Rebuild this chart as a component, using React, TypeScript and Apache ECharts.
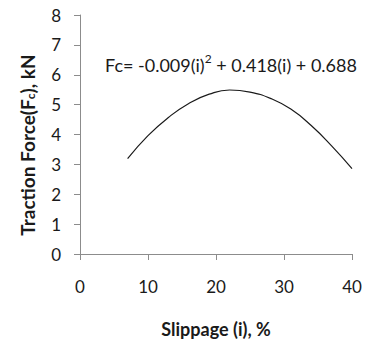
import React, { useEffect, useRef } from "react";
import * as echarts from "echarts";

const slippage = [7, 10, 13, 16, 19, 22, 25, 28, 31, 34, 37, 40];
const traction = [3.19, 3.96, 4.57, 5.04, 5.35, 5.49, 5.42, 5.21, 4.85, 4.3, 3.62, 2.86];
const xTicks = { min: 0, max: 40, interval: 10 };
const yTicks = { min: 0, max: 8, interval: 1 };
const xTitle = "Slippage (i), %";
const yTitle = "{a|Traction Force(F}{s|c}{a|), kN}";
const equation = "{a|Fc= -0.009(i)}{sup|2}{a| + 0.418(i) + 0.688}";

export default function App() {
  const ref = useRef<HTMLDivElement>(null);
  useEffect(() => {
    if (!ref.current) return;
    const chart = echarts.init(ref.current, null, { renderer: "svg" });
    const font = "Lato, 'Open Sans', sans-serif";
    const axisColor = "#8c8c8c";
    const textColor = "#1a1a1a";
    chart.setOption({
      animation: false,
      grid: { left: 80, right: 17, top: 15, bottom: 89 },
      xAxis: {
        type: "value",
        ...xTicks,
        name: xTitle,
        nameLocation: "middle",
        nameGap: 66,
        nameTextStyle: { fontFamily: font, fontWeight: "bold", fontSize: 18, color: textColor },
        axisLine: { show: true, lineStyle: { color: axisColor, width: 1 } },
        axisTick: { show: true, inside: false, length: 6, lineStyle: { color: axisColor } },
        splitLine: { show: false },
        axisLabel: { margin: 24, fontFamily: font, fontSize: 17, color: textColor },
      },
      yAxis: {
        type: "value",
        ...yTicks,
        axisLine: { show: true, lineStyle: { color: axisColor, width: 1 } },
        axisTick: { show: true, inside: false, length: 6, lineStyle: { color: axisColor } },
        splitLine: { show: false },
        axisLabel: { margin: 19, fontFamily: font, fontSize: 17, color: textColor },
      },
      graphic: [
        {
          type: "text",
          x: 25,
          y: 145,
          rotation: Math.PI / 2,
          style: {
            text: yTitle,
            align: "center",
            verticalAlign: "middle",
            rich: {
              a: { fontFamily: font, fontWeight: "bold", fontSize: 19, fill: textColor, lineHeight: 23, verticalAlign: "bottom" },
              s: { fontFamily: font, fontWeight: "bold", fontSize: 12, fill: textColor, lineHeight: 23, verticalAlign: "bottom" },
            },
          },
        },
        {
          type: "text",
          x: 105,
          y: 63,
          style: {
            text: equation,
            align: "left",
            verticalAlign: "middle",
            rich: {
              a: { fontFamily: font, fontSize: 18, fill: textColor, lineHeight: 22, verticalAlign: "bottom" },
              sup: { fontFamily: font, fontSize: 12, fill: textColor, lineHeight: 22, verticalAlign: "top" },
            },
          },
        },
      ],
      series: [
        {
          type: "line",
          data: slippage.map((x, i) => [x, traction[i]]),
          smooth: true,
          showSymbol: false,
          lineStyle: { color: textColor, width: 1.2 },
        },
      ],
    });
    return () => chart.dispose();
  }, []);
  return (
    <div
      ref={ref}
      style={{ position: "absolute", left: 0, top: 0, width: 369, height: 343 }}
    />
  );
}
